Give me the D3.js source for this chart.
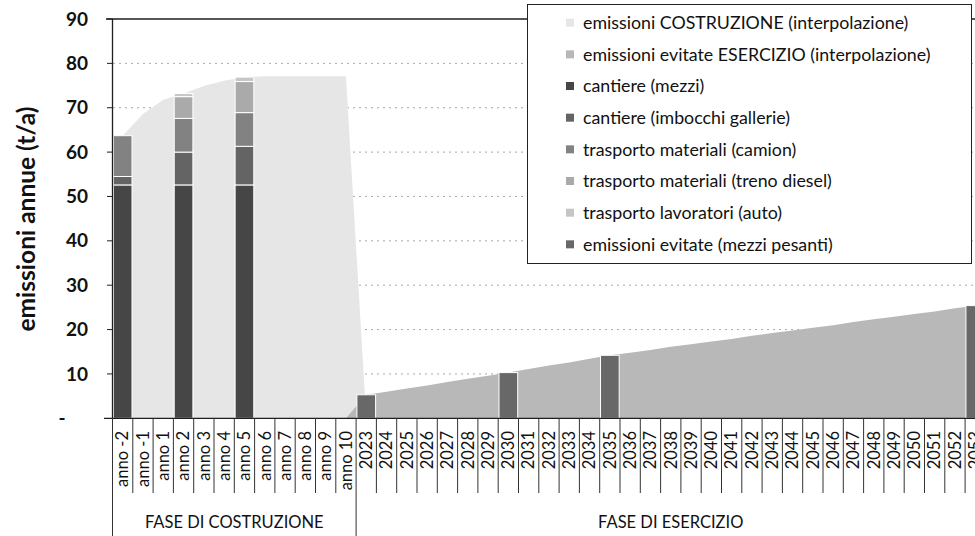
<!DOCTYPE html>
<html>
<head>
<meta charset="utf-8">
<script src="https://d3js.org/d3.v7.min.js"></script>
<style>
  body { margin: 0; background: #fff; }
  svg { display: block; font-family: Lato, "Open Sans", sans-serif; }
</style>
</head>
<body>
<div id="chart"></div>
<script>
// categories on the x axis
var categories = ["anno -2","anno -1","anno 1","anno 2","anno 3","anno 4","anno 5","anno 6","anno 7","anno 8","anno 9","anno 10",
  "2023","2024","2025","2026","2027","2028","2029","2030","2031","2032","2033","2034","2035","2036","2037","2038",
  "2039","2040","2041","2042","2043","2044","2045","2046","2047","2048","2049","2050","2051","2052","2053"];

// stacked construction bars
var barCats = ["anno -2", "anno 2", "anno 5"];
var cantiereMezzi = [52.6, 52.6, 52.6];
var cantiereImbocchi = [1.9, 7.4, 8.7];
var trasportoCamion = [9.2, 7.6, 7.6];
var trasportoTreno = [0, 4.9, 7.0];
var trasportoAuto = [0, 0.7, 1.0];

// avoided emissions bars (operation)
var evitateCats = ["2023", "2030", "2035", "2053"];
var evitateMezzi = [5.3, 10.3, 14.2, 25.4];

// interpolation areas
var costrCats = ["anno -2","anno -1","anno 1","anno 2","anno 3","anno 4","anno 5","anno 6","anno 7","anno 8","anno 9","anno 10","2023"];
var costrInterp = [63.7, 68.6, 71.8, 73.2, 74.9, 76.1, 76.9, 77.1, 77.1, 77.1, 77.1, 77.1, 0];

var eserCats = ["anno 10","2023","2024","2025","2026","2027","2028","2029","2030","2031","2032","2033","2034","2035","2036","2037",
  "2038","2039","2040","2041","2042","2043","2044","2045","2046","2047","2048","2049","2050","2051","2052","2053"];
var eserInterp = [0, 5.3, 6.0, 6.7, 7.4, 8.2, 8.9, 9.6, 10.3, 11.1, 11.9, 12.6, 13.4, 14.2, 14.8, 15.4,
  16.1, 16.7, 17.3, 17.9, 18.6, 19.2, 19.8, 20.4, 21.0, 21.7, 22.3, 22.9, 23.5, 24.1, 24.8, 25.4];

var yTicks = [10, 20, 30, 40, 50, 60, 70, 80, 90];

var legendLabels = ["emissioni COSTRUZIONE (interpolazione)", "emissioni evitate ESERCIZIO (interpolazione)",
  "cantiere (mezzi)", "cantiere (imbocchi gallerie)", "trasporto materiali (camion)",
  "trasporto materiali (treno diesel)", "trasporto lavoratori (auto)", "emissioni evitate (mezzi pesanti)"];

var colors = {
  costr: "#e6e6e6",
  eser: "#b8b8b8",
  mezzi: "#464646",
  imbocchi: "#646464",
  camion: "#828282",
  treno: "#aaaaaa",
  auto: "#c6c6c6",
  evitate: "#686868"
};
var legendColors = [colors.costr, colors.eser, colors.mezzi, colors.imbocchi, colors.camion, colors.treno, colors.auto, colors.evitate];

var W = 975, H = 536;
var svg = d3.select("#chart").append("svg").attr("width", W).attr("height", H);

var x = d3.scaleBand().domain(categories).range([112.5, 985.4]).paddingInner(0.08).paddingOuter(0.04);
var step = x.step();
var y = d3.scaleLinear().domain([0, 90]).range([418.3, 19]);
var cx = function(c) { return x(c) + x.bandwidth() / 2; };
var bound = function(i) { return 112.5 + i * step; };
var ink = "#111";

// gridlines
svg.append("g").selectAll("line").data(yTicks.filter(function(d){ return d < 90; })).enter().append("line")
  .attr("x1", 113).attr("x2", W).attr("y1", function(d){ return y(d); }).attr("y2", function(d){ return y(d); })
  .attr("stroke", "#a8a8a8").attr("stroke-width", 1).attr("stroke-dasharray", "2,4");

// interpolation areas
var area = d3.area().x(function(d){ return cx(d.c); }).y0(y(0)).y1(function(d){ return y(d.v); });
svg.append("path").datum(costrCats.map(function(c, i){ return {c: c, v: costrInterp[i]}; }))
  .attr("d", area).attr("fill", colors.costr);
svg.append("path").datum(eserCats.map(function(c, i){ return {c: c, v: eserInterp[i]}; }))
  .attr("d", area).attr("fill", colors.eser);

// stacked bars
var keys = ["mezzi", "imbocchi", "camion", "treno", "auto"];
var rows = barCats.map(function(c, i) {
  return {cat: c, mezzi: cantiereMezzi[i], imbocchi: cantiereImbocchi[i], camion: trasportoCamion[i],
    treno: trasportoTreno[i], auto: trasportoAuto[i]};
});
var stacked = d3.stack().keys(keys)(rows);
svg.append("g").selectAll("g").data(stacked).enter().append("g")
  .attr("fill", function(s){ return colors[s.key]; })
  .selectAll("rect").data(function(s){ return s.filter(function(d){ return d[1] - d[0] > 0; }); }).enter().append("rect")
  .attr("x", function(d){ return x(d.data.cat); })
  .attr("width", x.bandwidth())
  .attr("y", function(d){ return y(d[1]); })
  .attr("height", function(d){ return y(d[0]) - y(d[1]); })
  .attr("stroke", "#fff").attr("stroke-width", 1);

svg.append("g").selectAll("rect").data(evitateCats).enter().append("rect")
  .attr("x", function(c){ return x(c); })
  .attr("width", x.bandwidth())
  .attr("y", function(c, i){ return y(evitateMezzi[i]); })
  .attr("height", function(c, i){ return y(0) - y(evitateMezzi[i]); })
  .attr("fill", colors.evitate).attr("stroke", "#fff").attr("stroke-width", 1);

// axes lines
var axisCol = "#1e1e1e";
svg.append("line").attr("x1", 112.5).attr("x2", 112.5).attr("y1", y(90)).attr("y2", y(0)).attr("stroke", axisCol).attr("stroke-width", 1.3);
svg.append("line").attr("x1", 106).attr("x2", W).attr("y1", y(90)).attr("y2", y(90)).attr("stroke", axisCol).attr("stroke-width", 1.3);
svg.append("line").attr("x1", 104).attr("x2", W).attr("y1", y(0)).attr("y2", y(0)).attr("stroke", axisCol).attr("stroke-width", 1.3);
svg.append("g").selectAll("line").data(yTicks).enter().append("line")
  .attr("x1", 107).attr("x2", 112.5).attr("y1", function(d){ return y(d); }).attr("y2", function(d){ return y(d); })
  .attr("stroke", axisCol);

// y tick labels
svg.append("g").selectAll("text").data(yTicks).enter().append("text")
  .attr("x", 88).attr("y", function(d){ return y(d); }).attr("dy", "0.35em")
  .attr("text-anchor", "end").attr("font-size", 19).attr("font-weight", "bold").attr("fill", ink)
  .text(function(d){ return d; });
svg.append("text").attr("x", 62).attr("y", y(0)).attr("dy", "0.35em").attr("text-anchor", "middle")
  .attr("font-size", 19).attr("font-weight", "bold").attr("fill", ink).text("-");

// y title
svg.append("text").attr("transform", "translate(26,219) rotate(-90)")
  .attr("text-anchor", "middle").attr("dy", "0.35em")
  .attr("font-size", 24.5).attr("font-weight", "bold").attr("fill", ink)
  .text("emissioni annue (t/a)");

// category separators and labels
svg.append("g").selectAll("line").data(d3.range(categories.length + 1)).enter().append("line")
  .attr("x1", function(i){ return bound(i); }).attr("x2", function(i){ return bound(i); })
  .attr("y1", y(0)).attr("y2", function(i){ return (i === 0 || i === 12) ? H : 493; })
  .attr("stroke", "#333").attr("stroke-width", 1);

svg.append("g").selectAll("text").data(categories).enter().append("text")
  .attr("transform", function(c){ return "translate(" + cx(c) + ",431) rotate(-90)"; })
  .attr("text-anchor", "end").attr("dy", "0.35em")
  .attr("font-size", 16.5).attr("fill", ink)
  .text(function(c){ return c; });

svg.append("text").attr("x", (bound(0) + bound(12)) / 2).attr("y", 522).attr("dy", "0.35em")
  .attr("text-anchor", "middle").attr("font-size", 16.5).attr("fill", ink).text("FASE DI COSTRUZIONE");
svg.append("text").attr("x", (bound(12) + bound(43)) / 2).attr("y", 522).attr("dy", "0.35em")
  .attr("text-anchor", "middle").attr("font-size", 16.5).attr("fill", ink).text("FASE DI ESERCIZIO");

// legend
var lg = svg.append("g");
lg.append("rect").attr("x", 527.5).attr("y", 4.5).attr("width", 444).attr("height", 259)
  .attr("fill", "#fff").attr("stroke", "#222").attr("stroke-width", 1);
var items = lg.selectAll("g.item").data(legendLabels).enter().append("g")
  .attr("transform", function(d, i){ return "translate(0," + (22.7 + i * 31.66) + ")"; });
items.append("rect").attr("x", 566).attr("y", -4).attr("width", 8).attr("height", 8)
  .attr("fill", function(d, i){ return legendColors[i]; });
items.append("text").attr("x", 583).attr("dy", "0.35em").attr("font-size", 17.8).attr("fill", ink)
  .text(function(d){ return d; });
</script>
</body>
</html>
